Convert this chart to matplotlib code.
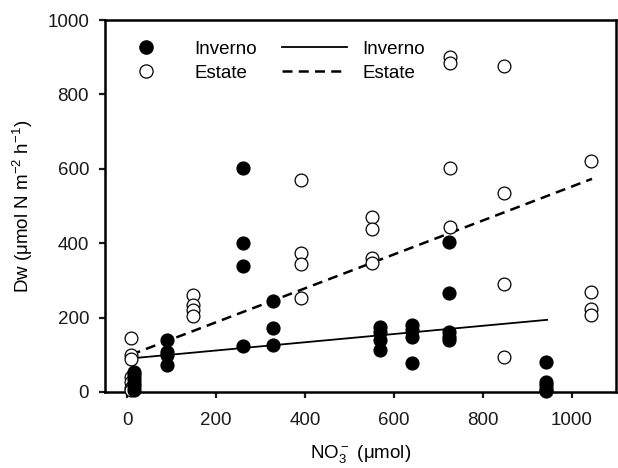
import matplotlib
matplotlib.use("Agg")
import matplotlib.pyplot as plt
from matplotlib.lines import Line2D

plt.rcParams['font.family'] = ['Liberation Sans', 'DejaVu Sans']
plt.rcParams['mathtext.default'] = 'regular'
plt.rcParams['font.size'] = 13.5

# Inverno (filled) points
inverno_x = [15, 15, 15, 15, 15, 15,
             89, 89, 89, 89,
             260, 260, 260, 260,
             328, 328, 328,
             570, 570, 570, 570,
             640, 640, 640, 640,
             724, 724, 724, 724, 724,
             943, 943, 943, 943, 943]
inverno_y = [55, 45, 35, 25, 15, 5,
             140, 108, 99, 73,
             601, 401, 339, 124,
             245, 171, 126,
             176, 162, 140, 113,
             180, 167, 149, 77,
             404, 265, 162, 149, 140,
             81, 28, 19, 8, 4]

# Estate (open) points
estate_x = [8, 8, 8, 8, 8, 8, 8,
            148, 148, 148, 148,
            391, 391, 391, 391,
            551, 551, 551, 551,
            726, 726, 726, 726,
            847, 847, 847, 847,
            1044, 1044, 1044, 1044]
estate_y = [146, 100, 88, 40, 28, 12, 5,
            262, 235, 220, 205,
            570, 373, 343, 252,
            470, 437, 359, 346,
            901, 884, 603, 444,
            877, 534, 290, 93,
            622, 270, 223, 207]

# regression line end points
inverno_line_x = [5, 945]
inverno_line_y = [90, 194]
estate_line_x = [8, 1046]
estate_line_y = [100, 573]

fig = plt.figure(figsize=(6.18, 4.68), dpi=100)
ax = fig.add_axes([105 / 618, (468 - 392) / 468, 511 / 618, 372 / 468])

ax.plot(inverno_line_x, inverno_line_y, color='black', lw=1.3)
ax.plot(estate_line_x, estate_line_y, color='black', lw=1.8, ls=(0, (4, 2.5)))

ax.scatter(estate_x, estate_y, s=85, facecolors='white', edgecolors='black',
           linewidths=0.9, zorder=3, clip_on=False)
ax.scatter(inverno_x, inverno_y, s=85, color='black', zorder=4, clip_on=False)

ax.set_xlim(-50, 1100)
ax.set_ylim(0, 1000)
ax.set_xticks([0, 200, 400, 600, 800, 1000])
ax.set_yticks([0, 200, 400, 600, 800, 1000])

for s in ax.spines.values():
    s.set_linewidth(1.8)
ax.tick_params(direction='out', length=4.5, width=1.6, labelsize=13.5, colors='#1a1a1a')
ax.tick_params(axis='x', pad=10)
ax.tick_params(axis='y', pad=7)

ax.set_xlabel(r"NO$_3^-$ ($\mu$mol)", fontsize=13.5, labelpad=10)
ax.set_ylabel(r"Dw ($\mu$mol N m$^{-2}$ h$^{-1}$)", fontsize=13.5, labelpad=9)

# legend: markers
h_pts = [Line2D([], [], ls='none', marker='o', ms=9.5, color='black'),
         Line2D([], [], ls='none', marker='o', ms=9.5, mfc='white', mec='black', mew=0.9)]
leg1 = ax.legend(h_pts, ['Inverno', 'Estate'], loc='upper left',
                 bbox_to_anchor=(0.029, 0.965), frameon=False,
                 handlelength=2, handletextpad=1.56, labelspacing=0.38,
                 borderaxespad=0, fontsize=13.5)
ax.add_artist(leg1)

# legend: lines
h_lines = [Line2D([], [], color='black', lw=1.3),
           Line2D([], [], color='black', lw=1.8, ls=(0, (4, 2.5)))]
ax.legend(h_lines, ['Inverno', 'Estate'], loc='upper left',
          bbox_to_anchor=(0.331, 0.965), frameon=False,
          handlelength=3.47, handletextpad=0.84, labelspacing=0.38,
          borderaxespad=0, fontsize=13.5)

fig.savefig('out.png', dpi=100)
